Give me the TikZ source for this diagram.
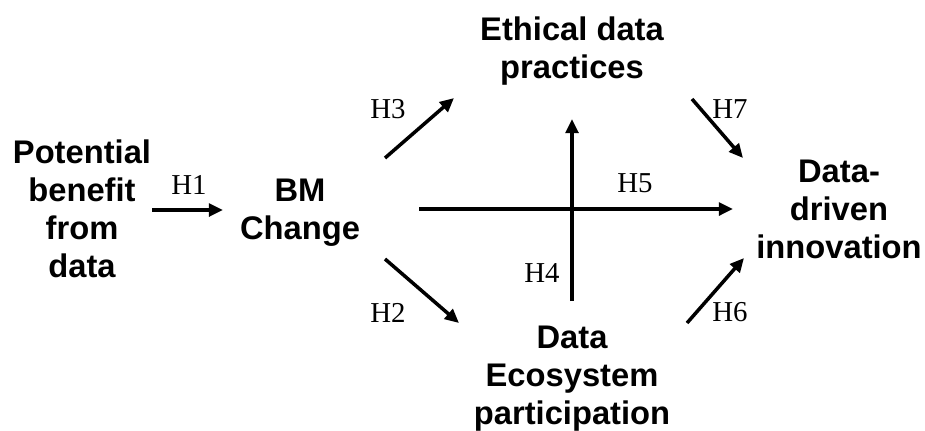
\documentclass[tikz,border=0pt]{standalone}
\usepackage{fontspec}
\setmainfont{Liberation Serif}
\setsansfont{Liberation Sans}
\usetikzlibrary{arrows.meta,positioning}
\tikzset{
  concept/.style={font=\sffamily\bfseries\fontsize{9.3}{10.8}\selectfont, align=center, inner sep=0pt, anchor=base},
  hyp/.style={font=\fontsize{8.2}{9}\selectfont, inner sep=0pt},
  link/.style={-{Triangle[length=4pt, width=3.6pt]}, line width=1pt},
}
\begin{document}
\begin{tikzpicture}[x=0.01cm, y=-0.01cm]
  \useasboundingbox (0,0) rectangle (925,430);
  % constructs (anchored at the baseline of the last line)
  \node[concept] (pot) at (82,277) {Potential\\ benefit\\ from\\ data};
  \node[concept] (bm)  at (300,239) {BM\\ Change};
  \node[concept] (eth) at (572,78) {Ethical data\\ practices};
  \node[concept] (eco) at (572,424) {Data\\ Ecosystem\\ participation};
  \node[concept] (ddi) at (839,258) {Data-\\ driven\\ innovation};
  % arrow ends
  \coordinate (h1s) at (152,210); \coordinate (h1e) at (223,210);
  \coordinate (h2s) at (385,259); \coordinate (h2e) at (459,323);
  \coordinate (h3s) at (385,158); \coordinate (h3e) at (454,98);
  \coordinate (h4s) at (572,301); \coordinate (h4e) at (572,119);
  \coordinate (h5s) at (419,209); \coordinate (h5e) at (733,209);
  \coordinate (h6s) at (687,323); \coordinate (h6e) at (744,258);
  \coordinate (h7s) at (692,99);  \coordinate (h7e) at (743,158);
  \draw[link] (h1s) -- (h1e);
  \draw[link] (h2s) -- (h2e);
  \draw[link] (h3s) -- (h3e);
  \draw[link] (h4s) -- (h4e);
  \draw[link] (h5s) -- (h5e);
  \draw[link] (h6s) -- (h6e);
  \draw[link] (h7s) -- (h7e);
  % hypothesis labels
  \node[hyp] (l1) at (189,185) {H1};
  \node[hyp] (l2) at (388,313) {H2};
  \node[hyp] (l3) at (388,109) {H3};
  \node[hyp] (l4) at (542,273) {H4};
  \node[hyp] (l5) at (635,183) {H5};
  \node[hyp] (l6) at (730,312) {H6};
  \node[hyp] (l7) at (730,109) {H7};
\end{tikzpicture}
\end{document}
